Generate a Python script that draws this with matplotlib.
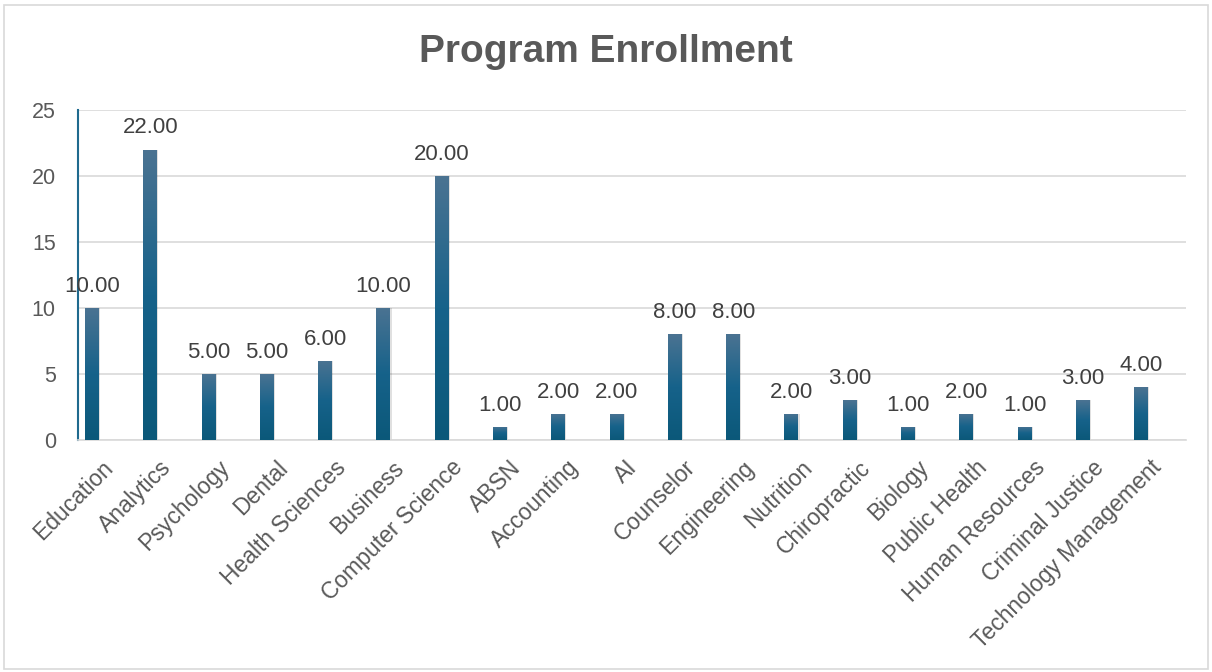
import matplotlib
matplotlib.use("Agg")
import matplotlib.pyplot as plt
import matplotlib.transforms as mtransforms
import numpy as np
from matplotlib.patches import Rectangle
from matplotlib.colors import LinearSegmentedColormap

categories = ["Education", "Analytics", "Psychology", "Dental", "Health Sciences",
              "Business", "Computer Science", "ABSN", "Accounting", "AI", "Counselor",
              "Engineering", "Nutrition", "Chiropractic", "Biology", "Public Health",
              "Human Resources", "Criminal Justice", "Technology Management"]
values = [10, 22, 5, 5, 6, 10, 20, 1, 2, 2, 8, 8, 2, 3, 1, 2, 1, 3, 4]
yticks = [0, 5, 10, 15, 20, 25]

plt.rcParams['font.family'] = ['Liberation Sans', 'DejaVu Sans']
txt = '#595959'

fig = plt.figure(figsize=(12.12, 6.72), dpi=100)
ax = fig.add_axes([0.0644, 0.3452, 0.9142, 0.4911])

x = np.arange(len(categories))
w = 0.24
bars = ax.bar(x, values, width=w, color='none', edgecolor='none', zorder=3)

cmap = LinearSegmentedColormap.from_list('g', ['#0b5879', '#16628a', '#4b7392'])
grad = np.linspace(0, 1, 256).reshape(-1, 1)
for b, v in zip(bars, values):
    x0 = b.get_x()
    ax.add_patch(Rectangle((x0 + 0.02, 0), w, v, facecolor='#000000', alpha=0.12,
                           edgecolor='none', zorder=2))
    im = ax.imshow(grad, cmap=cmap, aspect='auto', extent=[x0, x0 + w, 0, v],
                   origin='lower', zorder=3)
    im.set_clip_path(b)
    ax.annotate(f"{v:.2f}", (b.get_x() + w / 2, v), xytext=(0, 8),
                textcoords='offset points', ha='center', va='bottom',
                fontsize=16, color='#404040')

ax.set_xlim(-0.24, 18.77)
ax.set_ylim(0, 25)
ax.set_yticks(yticks)
ax.set_yticklabels([str(t) for t in yticks], fontsize=15.5, color=txt)
ax.set_xticks(x)
ax.set_xticklabels([])
offset = mtransforms.ScaledTranslation(0.09, -0.16, fig.dpi_scale_trans)
for xi, cat in zip(x, categories):
    ax.text(xi, 0, cat, transform=ax.transData + offset, rotation=45,
            ha='right', va='top', rotation_mode='anchor', fontsize=16.5,
            color=txt, clip_on=False)
ax.tick_params(axis='both', length=0)
ax.tick_params(axis='y', pad=16)
ax.grid(axis='y', color='#d9d9d9', linewidth=1.2, zorder=0)
ax.set_axisbelow(True)
for s in ['top', 'right']:
    ax.spines[s].set_visible(False)
ax.spines['left'].set_color('#1f6a8e')
ax.spines['left'].set_linewidth(1.5)
ax.spines['bottom'].set_color('#d9d9d9')
ax.spines['bottom'].set_linewidth(1.2)

fig.text(0.5, 0.922, "Program Enrollment", ha='center', va='center',
         fontsize=28, fontweight='bold', color=txt)

fig.patches.append(Rectangle((0.003, 0.005), 0.994, 0.988, transform=fig.transFigure,
                             fill=False, edgecolor='#d9d9d9', linewidth=1.2))

fig.savefig('out.png', dpi=100)
